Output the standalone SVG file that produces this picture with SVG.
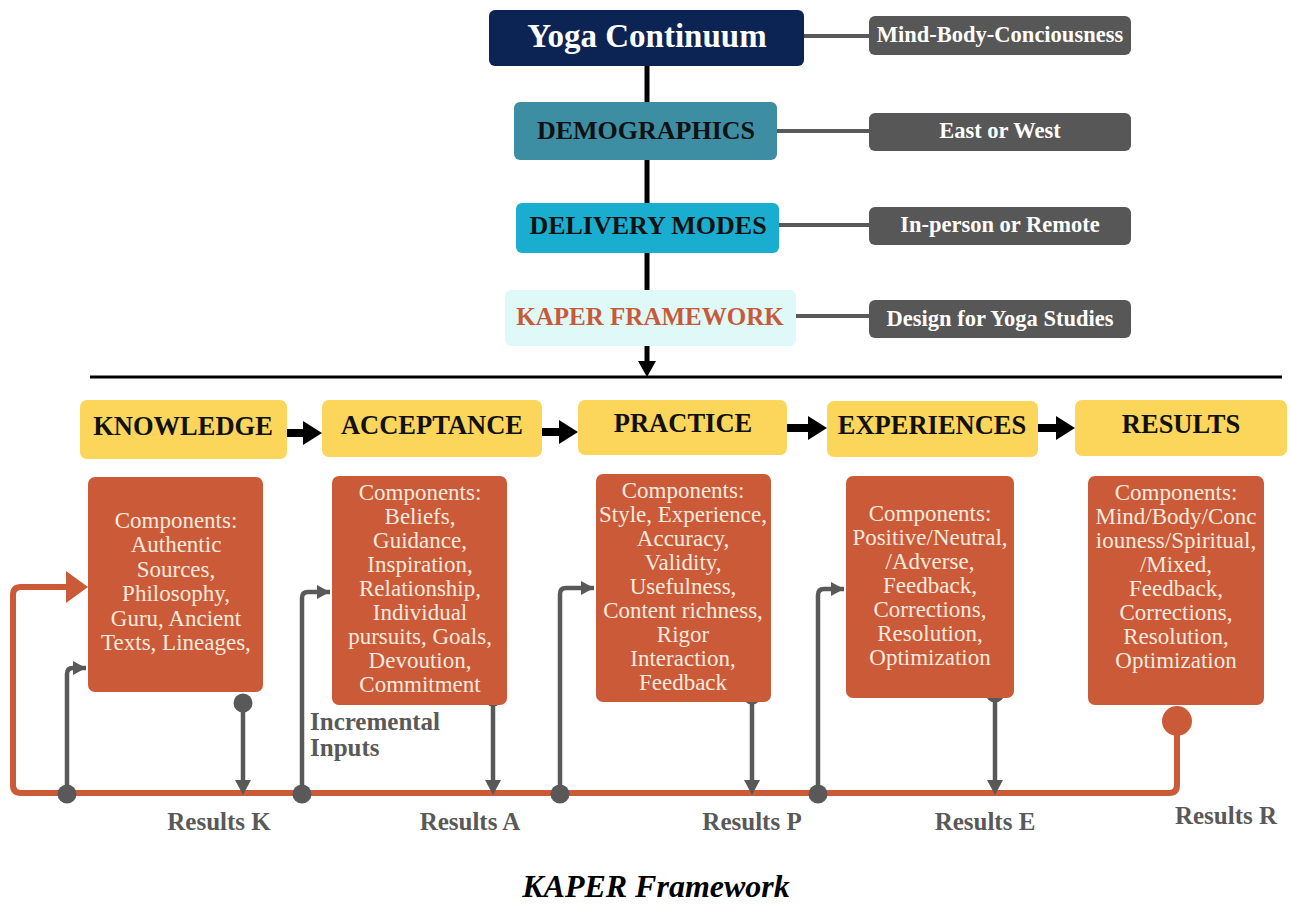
<svg xmlns="http://www.w3.org/2000/svg" width="1292" height="907" viewBox="0 0 1292 907">
<defs>
<style>
text{font-family:"Liberation Serif","Times New Roman",serif;}
.b{font-weight:bold;}
.c{text-anchor:middle;}
.yel{fill:#fbd65a;}
.org{fill:#cb5a38;}
.gbox{fill:#575757;}
.gt{fill:#ffffff;font-size:22.5px;font-weight:bold;text-anchor:middle;}
.hd{fill:#111111;font-size:26.5px;font-weight:bold;text-anchor:middle;}
.ct{fill:#f6e9df;font-size:23px;text-anchor:middle;}
.lab{fill:#595959;font-size:25px;font-weight:bold;}
.gl{fill:none;stroke:#595959;stroke-width:4.5;}
.gdot{fill:#595959;}
.blk{stroke:#000;stroke-width:8;fill:none;}
</style>
<marker id="gArrR" markerWidth="16" markerHeight="16" refX="15" refY="8" orient="auto" markerUnits="userSpaceOnUse">
<path d="M2,1 L15,8 L2,15 Z" fill="#595959"/>
</marker>
</defs>
<rect width="1292" height="907" fill="#ffffff"/>

<g id="connectors">
<line x1="647" y1="60" x2="647" y2="364" stroke="#000" stroke-width="5"/>
<path d="M638,361 L656,361 L647,377 Z" fill="#000"/>
<line x1="90" y1="377" x2="1282" y2="377" stroke="#000" stroke-width="3"/>
<line x1="797" y1="36" x2="872" y2="36" stroke="#595959" stroke-width="4"/>
<line x1="775" y1="131" x2="872" y2="131" stroke="#595959" stroke-width="4"/>
<line x1="777" y1="225" x2="872" y2="225" stroke="#595959" stroke-width="4"/>
<line x1="794" y1="316" x2="872" y2="316" stroke="#595959" stroke-width="4"/>
<line class="blk" x1="287" y1="433" x2="306" y2="433"/><path d="M303,421 L322,433 L303,445 Z" fill="#000"/>
<line class="blk" x1="542" y1="432" x2="562" y2="432"/><path d="M559,420 L578,432 L559,444 Z" fill="#000"/>
<line class="blk" x1="786" y1="428" x2="811" y2="428"/><path d="M808,416 L827,428 L808,440 Z" fill="#000"/>
<line class="blk" x1="1038" y1="428" x2="1059" y2="428"/><path d="M1056,416 L1075,428 L1056,440 Z" fill="#000"/>
<path d="M1177,721 L1177,785 Q1177,793 1169,793 L21,793 Q13,793 13,785 L13,595 Q13,587 21,587 L68,587" fill="none" stroke="#cb5a38" stroke-width="6"/>
<path d="M66,571 L88,587 L66,603 Z" fill="#cb5a38"/>
<circle cx="1177" cy="721" r="15" fill="#cb5a38"/>
<path class="gl" d="M67,794 L67,674 Q67,668 73,668 L86,668" marker-end="url(#gArrR)"/>
<path class="gl" d="M302,794 L302,598 Q302,592 308,592 L330,592" marker-end="url(#gArrR)"/>
<path class="gl" d="M560,794 L560,594 Q560,588 566,588 L594,588" marker-end="url(#gArrR)"/>
<path class="gl" d="M818,794 L818,595 Q818,589 824,589 L844,589" marker-end="url(#gArrR)"/>
<circle class="gdot" cx="67" cy="794" r="9.5"/>
<circle class="gdot" cx="302" cy="794" r="9.5"/>
<circle class="gdot" cx="560" cy="794" r="9.5"/>
<circle class="gdot" cx="818" cy="794" r="9.5"/>
<line class="gl" x1="243" y1="703" x2="243" y2="782"/><path d="M235,780 L251,780 L243,795 Z" fill="#595959"/><circle class="gdot" cx="243" cy="703" r="9.5"/>
<line class="gl" x1="493" y1="697" x2="493" y2="782"/><path d="M485,780 L501,780 L493,795 Z" fill="#595959"/><circle class="gdot" cx="493" cy="697" r="9.5"/>
<line class="gl" x1="752" y1="695" x2="752" y2="782"/><path d="M744,780 L760,780 L752,795 Z" fill="#595959"/><circle class="gdot" cx="752" cy="695" r="9.5"/>
<line class="gl" x1="995" y1="693" x2="995" y2="782"/><path d="M987,780 L1003,780 L995,795 Z" fill="#595959"/><circle class="gdot" cx="995" cy="693" r="9.5"/>
</g>

<g id="yoga-continuum">
<rect x="489" y="10" width="315" height="56" rx="6" fill="#0c2454"/>
<text x="647" y="47" class="b c" font-size="33" fill="#ffffff">Yoga Continuum</text>
</g>
<g id="demographics">
<rect x="514" y="102" width="263" height="58" rx="6" fill="#3d8ea3"/>
<text x="646" y="139" class="b c" font-size="26" fill="#111111">DEMOGRAPHICS</text>
</g>
<g id="delivery-modes">
<rect x="516" y="203" width="263" height="50" rx="6" fill="#19aed0"/>
<text x="648" y="234" class="b c" font-size="26" fill="#111111">DELIVERY MODES</text>
</g>
<g id="kaper-framework">
<rect x="505" y="290" width="291" height="56" rx="6" fill="#dff9f9"/>
<text x="650" y="325" class="b c" font-size="25" fill="#c85a3a">KAPER FRAMEWORK</text>
</g>

<g id="mind-body">
<rect class="gbox" x="869" y="16" width="262" height="39" rx="6"/>
<text x="1000" y="42" class="gt">Mind-Body-Conciousness</text>
</g>
<g id="east-west">
<rect class="gbox" x="869" y="113" width="262" height="38" rx="6"/>
<text x="1000" y="138" class="gt">East or West</text>
</g>
<g id="in-person">
<rect class="gbox" x="869" y="207" width="262" height="38" rx="6"/>
<text x="1000" y="232" class="gt">In-person or Remote</text>
</g>
<g id="design">
<rect class="gbox" x="869" y="300" width="262" height="38" rx="6"/>
<text x="1000" y="326" class="gt">Design for Yoga Studies</text>
</g>

<g id="knowledge">
<rect class="yel" x="80" y="400" width="207" height="59" rx="7"/>
<text x="183" y="435" class="hd">KNOWLEDGE</text>
</g>
<g id="acceptance">
<rect class="yel" x="322" y="400" width="220" height="57" rx="7"/>
<text x="432" y="434" class="hd">ACCEPTANCE</text>
</g>
<g id="practice">
<rect class="yel" x="578" y="400" width="209" height="55" rx="7"/>
<text x="683" y="432" class="hd">PRACTICE</text>
</g>
<g id="experiences">
<rect class="yel" x="827" y="401" width="211" height="56" rx="7"/>
<text x="932" y="434" class="hd">EXPERIENCES</text>
</g>
<g id="results">
<rect class="yel" x="1075" y="400" width="212" height="56" rx="7"/>
<text x="1181" y="433" class="hd">RESULTS</text>
</g>

<g id="knowledge-components">
<rect class="org" x="88" y="477" width="175" height="215" rx="7"/>
<text class="ct"><tspan x="176" y="528">Components:</tspan><tspan x="176" y="552">Authentic</tspan><tspan x="176" y="577">Sources,</tspan><tspan x="176" y="601">Philosophy,</tspan><tspan x="176" y="626">Guru, Ancient</tspan><tspan x="176" y="650">Texts, Lineages,</tspan></text>
</g>
<g id="acceptance-components">
<rect class="org" x="332" y="476" width="175" height="229" rx="7"/>
<text class="ct"><tspan x="420" y="500">Components:</tspan><tspan x="420" y="524">Beliefs,</tspan><tspan x="420" y="548">Guidance,</tspan><tspan x="420" y="572">Inspiration,</tspan><tspan x="420" y="596">Relationship,</tspan><tspan x="420" y="620">Individual</tspan><tspan x="420" y="644">pursuits, Goals,</tspan><tspan x="420" y="668">Devoution,</tspan><tspan x="420" y="692">Commitment</tspan></text>
</g>
<g id="practice-components">
<rect class="org" x="596" y="474" width="175" height="228" rx="7"/>
<text class="ct"><tspan x="683" y="498">Components:</tspan><tspan x="683" y="522">Style, Experience,</tspan><tspan x="683" y="546">Accuracy,</tspan><tspan x="683" y="570">Validity,</tspan><tspan x="683" y="594">Usefulness,</tspan><tspan x="683" y="618">Content richness,</tspan><tspan x="683" y="642">Rigor</tspan><tspan x="683" y="666">Interaction,</tspan><tspan x="683" y="690">Feedback</tspan></text>
</g>
<g id="experiences-components">
<rect class="org" x="846" y="476" width="168" height="222" rx="7"/>
<text class="ct"><tspan x="930" y="521">Components:</tspan><tspan x="930" y="545">Positive/Neutral,</tspan><tspan x="930" y="569">/Adverse,</tspan><tspan x="930" y="593">Feedback,</tspan><tspan x="930" y="617">Corrections,</tspan><tspan x="930" y="641">Resolution,</tspan><tspan x="930" y="665">Optimization</tspan></text>
</g>
<g id="results-components">
<rect class="org" x="1088" y="476" width="176" height="229" rx="7"/>
<text class="ct"><tspan x="1176" y="500">Components:</tspan><tspan x="1176" y="524">Mind/Body/Conc</tspan><tspan x="1176" y="548">iouness/Spiritual,</tspan><tspan x="1176" y="572">/Mixed,</tspan><tspan x="1176" y="596">Feedback,</tspan><tspan x="1176" y="620">Corrections,</tspan><tspan x="1176" y="644">Resolution,</tspan><tspan x="1176" y="668">Optimization</tspan></text>
</g>

<g id="labels">
<text class="lab"><tspan x="310" y="730">Incremental</tspan><tspan x="310" y="756">Inputs</tspan></text>
<text class="lab c" x="219" y="830">Results K</text>
<text class="lab c" x="470" y="830">Results A</text>
<text class="lab c" x="752" y="830">Results P</text>
<text class="lab c" x="985" y="830">Results E</text>
<text class="lab c" x="1226" y="824">Results R</text>
</g>

<g id="caption">
<text x="656" y="897" class="c" font-size="32" font-weight="bold" font-style="italic" fill="#000">KAPER Framework</text>
</g>
</svg>
